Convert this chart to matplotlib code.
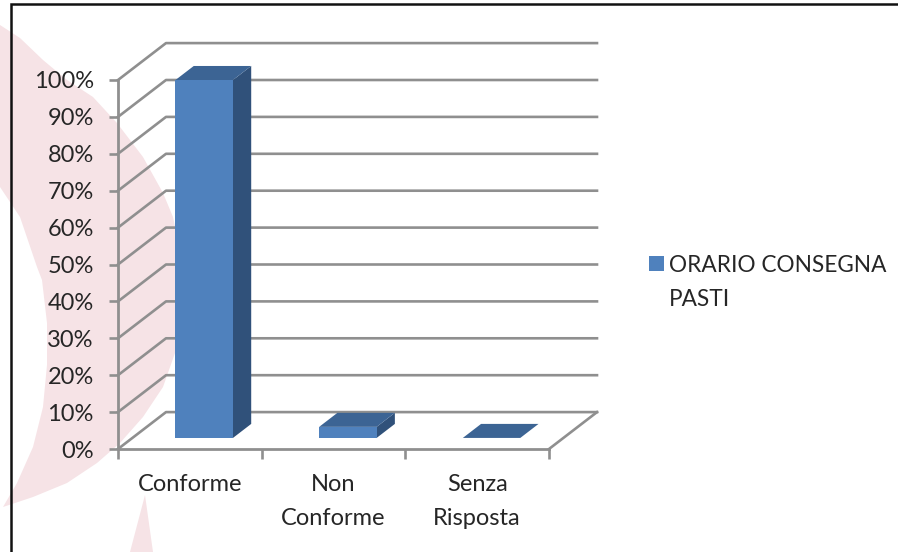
import matplotlib
matplotlib.use('Agg')
import matplotlib.pyplot as plt
from matplotlib.patches import Polygon, Patch

categories = ['Conforme', 'Non\nConforme', 'Senza\nRisposta']
values = [97, 3, 0]
y_ticks = list(range(0, 101, 10))
y_labels = [f'{v}%' for v in y_ticks]
series_lines = ['ORARIO CONSEGNA', 'PASTI']

WIDTH, HEIGHT = 898, 552
GRID = '#8f8f8f'
FRONT = '#4f81bd'
SIDE = '#30517a'
TOP = '#3c6494'
PINK = '#f6e3e6'
TEXT = '#262626'

# one unit of depth, in axis units
DEPTH_X = 48 / 143.67
DEPTH_Y = 10.0


def project(x, y, d):
    return x + d * DEPTH_X, y + d * DEPTH_Y


plt.rcParams['font.family'] = ['Lato', 'DejaVu Sans']
fig = plt.figure(figsize=(WIDTH / 100, HEIGHT / 100), dpi=100)

# background logo and frame, in pixels
bg = fig.add_axes([0, 0, 1, 1], zorder=0)
bg.set_xlim(0, WIDTH)
bg.set_ylim(HEIGHT, 0)
bg.axis('off')
crescent = [(0, 25), (20, 38), (43, 60), (67, 80), (93, 97), (117, 123), (143, 157), (163, 193),
            (173, 217), (180, 250), (180, 340), (175, 353), (163, 387), (143, 417), (120, 443),
            (97, 463), (67, 483), (33, 497), (3, 507), (17, 483), (33, 447), (43, 407),
            (47, 365), (47, 323), (42, 280), (37, 267), (20, 217), (0, 187)]
bg.add_patch(Polygon(crescent, closed=True, fc=PINK, ec='none'))
bg.add_patch(Polygon([(145, 495), (130, 552), (153, 552)], closed=True, fc=PINK, ec='none'))
bg.plot([11, 11, WIDTH], [HEIGHT, 4, 4], color='#111111', lw=1.8, solid_joinstyle='miter')

# axes box runs from the front axis corner to the top of the scale
left, right = 118 / WIDTH, 549 / WIDTH
bottom, top = 1 - 449 / HEIGHT, 1 - 80 / HEIGHT
ax = fig.add_axes([left, bottom, right - left, top - bottom], zorder=1)
ax.patch.set_alpha(0)
ax.set_xlim(0, len(categories))
ax.set_ylim(0, 100)

# side wall and back wall gridlines
for v in y_ticks:
    xs, ys = zip(project(0, v, 0), project(0, v, 1), project(len(categories), v, 1))
    ax.plot(xs, ys, color=GRID, lw=1.9, clip_on=False, zorder=1)

# right edge of the floor
xs, ys = zip(project(len(categories), 0, 0), project(len(categories), 0, 1))
ax.plot(xs, ys, color=GRID, lw=1.9, clip_on=False, zorder=1)

# 3D bars: the base sits part way into the floor
bar_width = 0.4
d0, d1 = 0.3, 0.68
for i, val in enumerate(values):
    x0, base = project(i + 0.5 - bar_width / 2, 0, d0)
    top_face = [project(i + 0.5 - bar_width / 2, val, d0), project(i + 0.5 + bar_width / 2, val, d0),
                project(i + 0.5 + bar_width / 2, val, d1), project(i + 0.5 - bar_width / 2, val, d1)]
    side_face = [project(i + 0.5 + bar_width / 2, 0, d0), project(i + 0.5 + bar_width / 2, val, d0),
                 project(i + 0.5 + bar_width / 2, val, d1), project(i + 0.5 + bar_width / 2, 0, d1)]
    ax.add_patch(Polygon(side_face, closed=True, fc=SIDE, ec='none', clip_on=False, zorder=3))
    ax.add_patch(Polygon(top_face, closed=True, fc=TOP, ec='none', clip_on=False, zorder=3))
    ax.bar(x0, val, width=bar_width, bottom=base, align='edge', color=FRONT, clip_on=False, zorder=4)

for name in ['top', 'right']:
    ax.spines[name].set_visible(False)
for name in ['left', 'bottom']:
    ax.spines[name].set_color(GRID)
    ax.spines[name].set_linewidth(2.0)
    ax.spines[name].set_zorder(2)

ax.set_yticks(y_ticks)
ax.set_yticklabels(y_labels, fontsize=17, color=TEXT)
ax.tick_params(axis='y', length=6.5, width=1.9, color=GRID, pad=11)

ax.set_xticks(range(len(categories) + 1))
ax.set_xticklabels([])
ax.tick_params(axis='x', length=7, width=1.9, color=GRID)
ax.set_xticks([i + 0.5 for i in range(len(categories))], minor=True)
ax.set_xticklabels(categories, minor=True, fontsize=17, color=TEXT, linespacing=1.75)
ax.tick_params(axis='x', which='minor', length=0, pad=18)

# second legend row only continues the series name, so it gets an empty swatch
handles = [Patch(fc=FRONT, ec='none'), Patch(fc='none', ec='none')]
fig.legend(handles, series_lines, loc='upper left', bbox_to_anchor=(649 / WIDTH, 1 - 254.5 / HEIGHT),
           frameon=False, fontsize=16.3, labelcolor=TEXT, handlelength=0.66, handleheight=0.66,
           handletextpad=0.22, borderpad=0, borderaxespad=0, labelspacing=0.58)

fig.savefig('out.png', dpi=100)
